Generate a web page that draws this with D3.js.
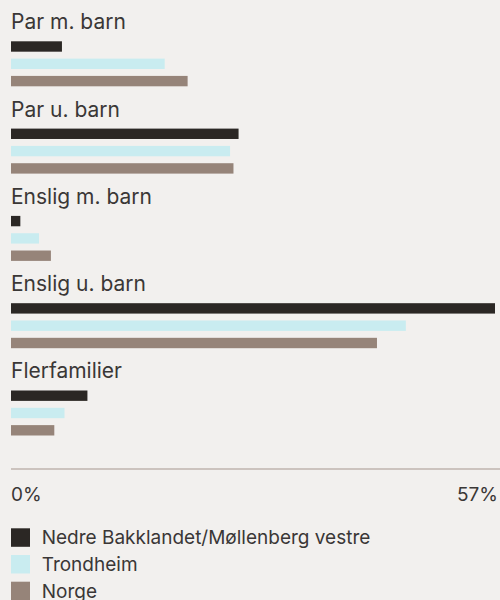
<!DOCTYPE html>
<html>
<head>
<meta charset="utf-8">
<script src="https://cdn.jsdelivr.net/npm/d3@7"></script>
<style>
  html, body { margin: 0; padding: 0; background: #f2f0ee; }
  svg { display: block; font-family: Inter, "Noto Sans", sans-serif; }
</style>
</head>
<body>
<svg id="chart" width="500" height="600"></svg>
<script>
// Household types, share of households (%)
const categories = ["Par m. barn", "Par u. barn", "Enslig m. barn", "Enslig u. barn", "Flerfamilier"];
const seriesNames = ["Nedre Bakklandet/Møllenberg vestre", "Trondheim", "Norge"];
const nedreBakklandet = [6.0, 26.8, 1.1, 57.0, 9.0];
const trondheim = [18.1, 25.8, 3.3, 46.5, 6.3];
const norge = [20.8, 26.2, 4.7, 43.1, 5.1];
const colors = ["#2b2724", "#c9ecf0", "#968479"];
const tickValues = [0, 57];

const series = [nedreBakklandet, trondheim, norge];

const svg = d3.select("#chart");
const textColor = "#3a3736";

const x = d3.scaleLinear().domain([0, 57]).range([11, 495]);
const groupY = d3.scaleBand().domain(categories).range([0, 436.5]);
const barY = d3.scaleBand().domain(d3.range(series.length)).range([41.3, 41.3 + 45]).paddingInner(0.4).paddingOuter(0);

const groups = svg.selectAll("g.group")
  .data(categories)
  .join("g")
  .attr("class", "group")
  .attr("transform", d => `translate(0,${groupY(d)})`);

groups.append("text")
  .attr("x", 11)
  .attr("y", 29.3)
  .attr("fill", textColor)
  .style("font-size", "21px")
  .text(d => d);

groups.each(function(cat, ci) {
  d3.select(this).selectAll("rect")
    .data(series.map((s, si) => ({ si, v: s[ci] })))
    .join("rect")
    .attr("x", x(0))
    .attr("y", d => barY(d.si))
    .attr("width", d => x(d.v) - x(0))
    .attr("height", barY.bandwidth())
    .attr("fill", d => colors[d.si]);
});

// axis baseline with end labels
svg.append("line")
  .attr("x1", 11).attr("x2", 500)
  .attr("y1", 469).attr("y2", 469)
  .attr("stroke", "#bfb5ae").attr("stroke-width", 1.5);

svg.selectAll("text.tick")
  .data(tickValues)
  .join("text")
  .attr("class", "tick")
  .attr("x", (d, i) => i === 0 ? x(d) : 498)
  .attr("y", 501)
  .attr("text-anchor", (d, i) => i === 0 ? "start" : "end")
  .attr("fill", textColor)
  .style("font-size", "19px")
  .text(d => d + "%");

// legend
const legend = svg.selectAll("g.legend")
  .data(seriesNames)
  .join("g")
  .attr("class", "legend")
  .attr("transform", (d, i) => `translate(11,${528.3 + i * 26.7})`);

legend.append("rect")
  .attr("width", 19).attr("height", 18.5)
  .attr("fill", (d, i) => colors[i]);

legend.append("text")
  .attr("x", 30.7)
  .attr("y", 16)
  .attr("fill", textColor)
  .style("font-size", "19px")
  .text(d => d);
</script>
</body>
</html>
